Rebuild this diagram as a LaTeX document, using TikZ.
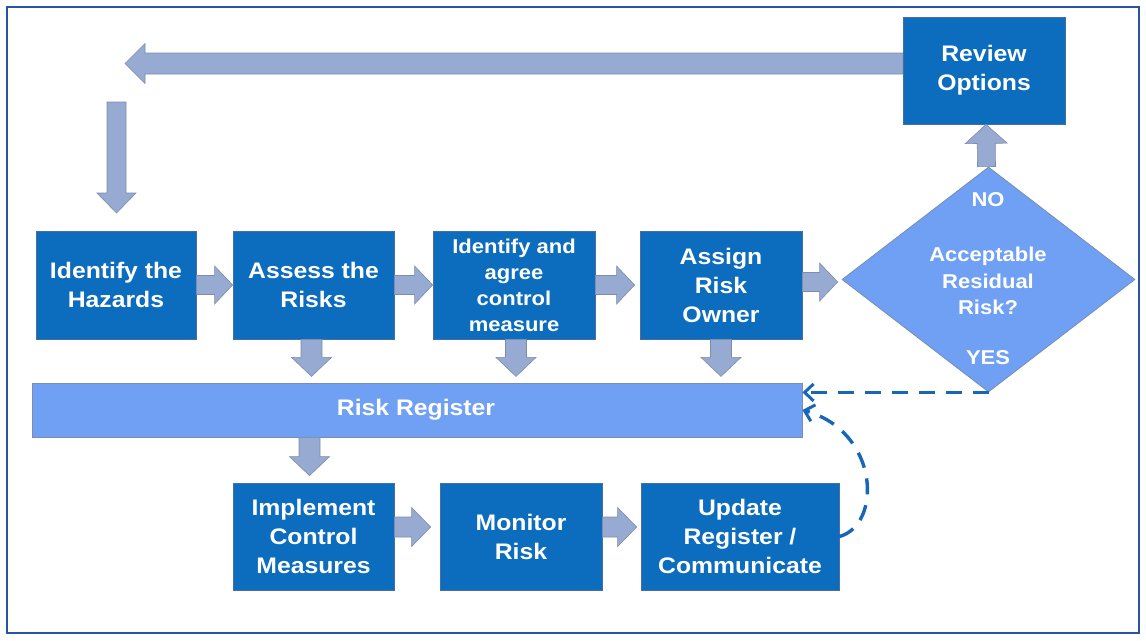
\documentclass[tikz,border=0pt]{standalone}
\usepackage{fontspec}
\setmainfont{Liberation Sans}[FakeStretch=1.1]
\usetikzlibrary{calc,shapes.geometric,arrows.meta}
\definecolor{boxblue}{RGB}{12,108,190}
\definecolor{boxedge}{RGB}{70,110,160}
\definecolor{lightblue}{RGB}{112,160,244}
\definecolor{lightedge}{RGB}{120,140,180}
\definecolor{arrfill}{RGB}{150,170,210}
\definecolor{arredge}{RGB}{125,140,172}
\definecolor{dashblue}{RGB}{22,104,182}
\definecolor{framec}{RGB}{40,85,160}
\newcommand\barrow[5]{%
  \coordinate (bah) at ($(#2)!#5!(#1)$);
  \filldraw[blockarrow] ($(#1)!#3!90:(#2)$) -- ($(bah)!#3!90:(#2)$) -- ($(bah)!#4!90:(#2)$) -- (#2) -- ($(bah)!#4!-90:(#2)$) -- ($(bah)!#3!-90:(#2)$) -- ($(#1)!#3!-90:(#2)$) -- cycle;}
\tikzset{
  box/.style={draw=boxedge, line width=0.8pt, fill=boxblue, text=white, inner sep=0pt,
    align=center, font=\bfseries\fontsize{22.5}{29}\selectfont},
  smallbox/.style={box, font=\bfseries\fontsize{20}{26}\selectfont},
  bar/.style={draw=lightedge, line width=0.8pt, fill=lightblue, inner sep=0pt},
  dia/.style={diamond, draw=lightedge, line width=0.8pt, fill=lightblue, inner sep=0pt},
  wtext/.style={text=white, align=center, inner sep=0pt},
  blockarrow/.style={fill=arrfill, draw=arredge, line width=0.6pt, line join=miter},
  dasharrow/.style={draw=dashblue, line width=3.4pt, dash pattern=on 16pt off 11pt,
    -{Straight Barb[length=9pt,width=17pt,line width=3pt]}}
}
\begin{document}
\begin{tikzpicture}[x=1pt,y=-1pt]
\useasboundingbox (0,0) rectangle (1146,640);
\fill[white] (0,0) rectangle (1146,640);
\draw[framec, line width=2pt] (7,7) rectangle (1139,633);

% top row
\node[box, minimum width=160pt, minimum height=108pt] (hz) at (116,285) {Identify the\\Hazards};
\node[box, minimum width=161pt, minimum height=108pt] (as) at (313.5,285) {Assess the\\Risks};
\node[smallbox, minimum width=162pt, minimum height=108pt] (ic) at (514,285) {Identify and\\agree\\control\\measure};
\node[box, minimum width=162pt, minimum height=108pt] (ao) at (721,285) {Assign\\Risk\\Owner};
\node[dia, minimum width=293pt, minimum height=225pt] (dm) at (988.5,279.5) {};
\node[wtext, font=\bfseries\fontsize{20}{26.5}\selectfont] (no) at (988,200) {NO};
\node[wtext, font=\bfseries\fontsize{20}{26.5}\selectfont] (acc) at (988,281) {Acceptable\\Residual\\Risk?};
\node[wtext, font=\bfseries\fontsize{20}{26.5}\selectfont] (yes) at (988,358) {YES};
\node[box, minimum width=162pt, minimum height=107pt] (rv) at (984,70.5) {Review\\Options};

% register bar
\node[bar, minimum width=770pt, minimum height=54pt] (rr) at (417,410) {};
\node[wtext, font=\bfseries\fontsize{22.5}{29}\selectfont] (rrt) at (416,410) {Risk Register};

% bottom row
\node[box, minimum width=161pt, minimum height=107pt] (im) at (313.5,536.5) {Implement\\Control\\Measures};
\node[box, minimum width=162pt, minimum height=107pt] (mo) at (521,536.5) {Monitor\\Risk};
\node[box, minimum width=198pt, minimum height=107pt] (up) at (740,536.5) {Update\\Register /\\Communicate};

% coordinates for arrow ends
\coordinate (t3) at ($(ao.west)+(-5,0)$);
\coordinate (t4s) at ($(ao.east)+(0,-3)$);
\coordinate (t4) at ($(ao.east -| dm.west)+(-4,-3)$);
\coordinate (bs) at ($(rv.west)+(0,-7)$);
\coordinate (bt) at (125,63.5);
\coordinate (ds) at (116.5,102);
\coordinate (dt) at (116.5,213);
\coordinate (d1) at ($(as.south)+(-2,37)$);
\coordinate (d1s) at ($(as.south)+(-2,0)$);
\coordinate (d2) at ($(ic.south)+(2,37)$);
\coordinate (d2s) at ($(ic.south)+(2,0)$);
\coordinate (d3) at ($(ao.south)+(0,37)$);
\coordinate (rs) at ($(im.north |- rr.south)+(-4,0)$);
\coordinate (rt) at ($(im.north)+(-4,-7)$);
\coordinate (b1s) at ($(im.east)+(0,-9.5)$);
\coordinate (b1t) at ($(mo.west)+(-9,-9.5)$);
\coordinate (b2s) at ($(mo.east)+(0,-9.5)$);
\coordinate (b2t) at ($(up.west)+(-4,-9.5)$);
\coordinate (us) at ($(dm.north)+(-2,0)$);
\coordinate (ut) at ($(rv.south)+(2,0)$);

% block arrows
\barrow{hz.east}{as.west}{9.5pt}{19pt}{18pt}
\barrow{as.east}{ic.west}{9.5pt}{19pt}{18pt}
\barrow{ic.east}{t3}{9.5pt}{19pt}{18pt}
\barrow{t4s}{t4}{9.5pt}{19pt}{18pt}
\barrow{us}{ut}{9pt}{21pt}{19pt}
\barrow{bs}{bt}{10.5pt}{20pt}{20pt}
\barrow{ds}{dt}{9.5pt}{19.5pt}{20pt}
\barrow{d1s}{d1}{10.5pt}{20pt}{19pt}
\barrow{d2s}{d2}{10.5pt}{20pt}{19pt}
\barrow{ao.south}{d3}{10.5pt}{20pt}{19pt}
\barrow{rs}{rt}{10.5pt}{20pt}{19pt}
\barrow{b1s}{b1t}{10pt}{19.5pt}{19pt}
\barrow{b2s}{b2t}{10pt}{19.5pt}{19pt}

% dashed feedback arrows
\draw[dasharrow] (dm.south) -- (rr.east |- dm.south);
\draw[dasharrow] (up.east) .. controls (882,525) and (880,432) .. (rr.east);
\end{tikzpicture}
\end{document}
